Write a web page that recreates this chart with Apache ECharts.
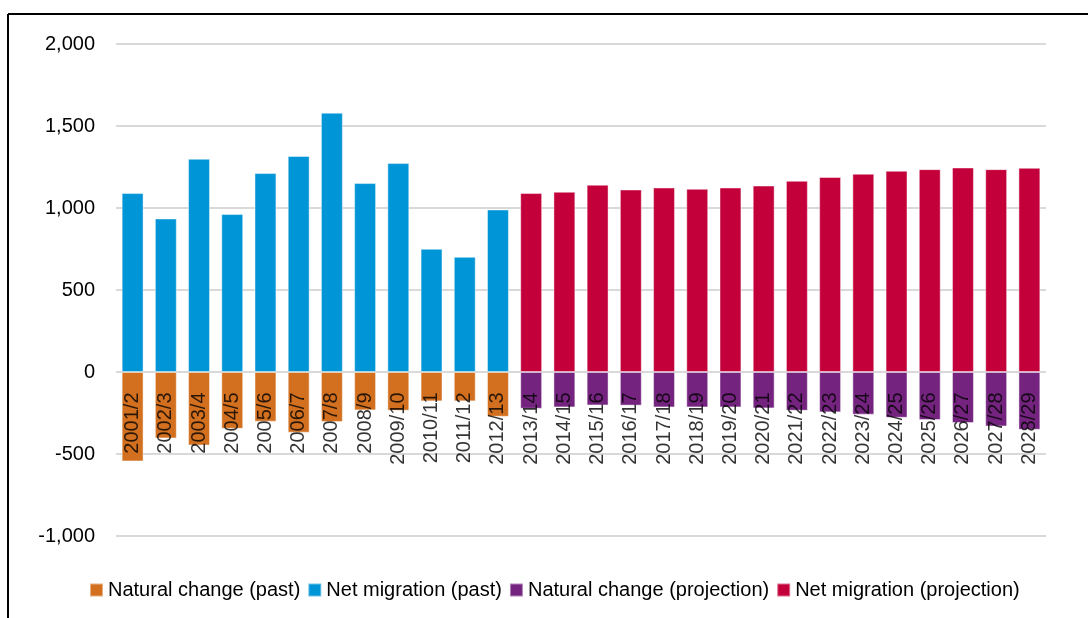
<!DOCTYPE html>
<html>
<head>
<meta charset="utf-8">
<script src="https://cdn.jsdelivr.net/npm/echarts@6/dist/echarts.min.js"></script>
<style>
html,body{margin:0;padding:0;background:#fff;}
#chart{width:1088px;height:618px;}
</style>
</head>
<body>
<div id="chart"></div>
<script>
const categories = ['2001/2','2002/3','2003/4','2004/5','2005/6','2006/7','2007/8','2008/9','2009/10','2010/11','2011/12','2012/13',
  '2013/14','2014/15','2015/16','2016/17','2017/18','2018/19','2019/20','2020/21','2021/22','2022/23','2023/24','2024/25','2025/26','2026/27','2027/28','2028/29'];
const naturalPast = [-545,-405,-448,-346,-303,-370,-305,-234,-236,-179,-179,-273,
  null,null,null,null,null,null,null,null,null,null,null,null,null,null,null,null];
const migrationPast = [1091,936,1300,963,1213,1317,1581,1152,1274,751,702,991,
  null,null,null,null,null,null,null,null,null,null,null,null,null,null,null,null];
const naturalProj = [null,null,null,null,null,null,null,null,null,null,null,null,
  -224,-216,-204,-205,-216,-216,-216,-222,-236,-246,-260,-279,-293,-311,-332,-352];
const migrationProj = [null,null,null,null,null,null,null,null,null,null,null,null,
  1091,1099,1142,1113,1125,1117,1125,1137,1166,1189,1209,1227,1237,1247,1237,1245];
const yTicks = [-1000,-500,0,500,1000,1500,2000];

const chart = echarts.init(document.getElementById('chart'), null, {renderer:'canvas'});
const FONT = '"Liberation Sans", Arial, sans-serif';
function bar(name, data, color){
  return {
    name, type:'bar', stack:'total', data,
    barWidth:'66%',
    itemStyle:{color, borderColor:'rgba(255,255,255,0.45)', borderWidth:1},
    emphasis:{disabled:true}
  };
}
chart.setOption({
  animation:false,
  backgroundColor:'#fff',
  textStyle:{fontFamily:FONT},
  grid:{left:116, right:42, top:44, bottom:82, containLabel:false},
  legend:{
    top:575, left:84,
    itemWidth:13, itemHeight:13, itemGap:7,
    icon:'rect',
    textStyle:{fontFamily:FONT, fontSize:20, color:'#000'},
    data:['Natural change (past)','Net migration (past)','Natural change (projection)','Net migration (projection)']
  },
  xAxis:{
    type:'category', data:categories,
    axisLine:{show:false},
    axisTick:{show:false},
    axisLabel:{show:false}
  },
  yAxis:{
    type:'value', min:-1000, max:2000, interval:500,
    axisLine:{show:false}, axisTick:{show:false},
    splitLine:{lineStyle:{color:'#d9d9d9', width:2}},
    axisLabel:{fontSize:20, color:'#000', margin:21, fontFamily:FONT,
      formatter:v => yTicks.includes(v) ? v.toLocaleString('en-US') : ''}
  },
  graphic:[
    {type:'line', shape:{x1:8,y1:14,x2:1088,y2:14}, style:{stroke:'#000', lineWidth:2}},
    {type:'line', shape:{x1:8,y1:14,x2:8,y2:618}, style:{stroke:'#000', lineWidth:2}}
  ],
  series:[
    bar('Natural change (past)', naturalPast, '#D2701F'),
    bar('Net migration (past)', migrationPast, '#0095D6'),
    bar('Natural change (projection)', naturalProj, '#74247F'),
    bar('Net migration (projection)', migrationProj, '#C3003A'),
    {
      name:'labels', type:'scatter', z:10, silent:true,
      data: categories.map(c => [c, 0]),
      symbolSize:1, itemStyle:{color:'rgba(0,0,0,0)'},
      label:{show:true, position:'bottom', distance:20, rotate:90,
        align:'right', verticalAlign:'middle',
        fontFamily:FONT, fontSize:20, color:'#000',
        formatter: p => p.name}
    }
  ]
});
</script>
</body>
</html>
